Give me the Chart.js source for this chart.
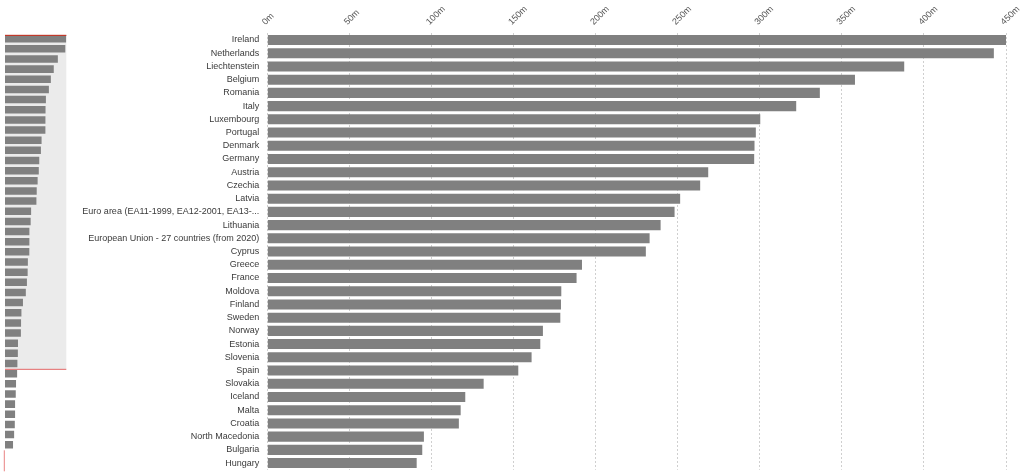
<!DOCTYPE html>
<html>
<head>
<meta charset="utf-8">
<script src="https://cdn.jsdelivr.net/npm/chart.js@4.4.1/dist/chart.umd.min.js"></script>
<style>
  html, body { margin: 0; padding: 0; background: #fff; overflow: hidden; }
  #wrap { position: relative; width: 1024px; height: 476px; }
  #main { position: absolute; left: 0; top: 0; }
  #overview { position: absolute; left: 0; top: 0; }
</style>
</head>
<body>
<div id="wrap">
  <canvas id="main" width="1024" height="476"></canvas>
  <canvas id="overview" width="70" height="476"></canvas>
</div>
<script>
// Ranked countries shown in the detail panel
const countries = [
  'Ireland', 'Netherlands', 'Liechtenstein', 'Belgium', 'Romania', 'Italy',
  'Luxembourg', 'Portugal', 'Denmark', 'Germany', 'Austria', 'Czechia', 'Latvia',
  'Euro area (EA11-1999, EA12-2001, EA13-...', 'Lithuania',
  'European Union - 27 countries (from 2020)', 'Cyprus', 'Greece', 'France',
  'Moldova', 'Finland', 'Sweden', 'Norway', 'Estonia', 'Slovenia', 'Spain',
  'Slovakia', 'Iceland', 'Malta', 'Croatia', 'North Macedonia', 'Bulgaria', 'Hungary'
];

// Values (millions) for the countries above
const values = [
  450, 442.6, 388, 358, 336.6, 322.2, 300.3, 297.6, 296.8, 296.6, 268.6, 263.7,
  251.5, 248.1, 239.6, 232.9, 230.6, 191.7, 188.4, 179.1, 178.9, 178.5, 167.9,
  166.3, 161.0, 152.9, 131.8, 120.6, 117.8, 116.7, 95.4, 94.4, 91.0
];

// Remaining entries of the ranking, only visible in the overview strip
const remainingValues = [89, 81, 79, 74, 74, 72, 67, 59];

// Axis ticks
const tickStep = 50;
const tickUnit = 'm';

const FONT = "'Liberation Sans', Arial, sans-serif";
const BAR = '#808080';
const maxValue = Math.max(...values);

// ---------- detail chart ----------
new Chart(document.getElementById('main'), {
  type: 'bar',
  data: {
    labels: countries,
    datasets: [{
      data: values,
      backgroundColor: BAR,
      borderWidth: 0,
      barPercentage: 0.76,
      categoryPercentage: 1
    }]
  },
  options: {
    indexAxis: 'y',
    responsive: false,
    animation: false,
    events: [],
    layout: { padding: { left: 0, right: 18, top: 0, bottom: 6.3 } },
    plugins: { legend: { display: false }, tooltip: { enabled: false } },
    scales: {
      x: {
        position: 'top',
        min: 0,
        max: maxValue,
        ticks: {
          stepSize: tickStep,
          minRotation: 45,
          maxRotation: 45,
          padding: 6,
          labelOffset: 4,
          color: '#555',
          font: { family: FONT, size: 9 },
          callback: v => v + tickUnit
        },
        grid: {
          color: '#cfcfcf',
          lineWidth: 1,
          drawTicks: false
        },
        border: { display: false, dash: [2, 2] },
        afterFit: s => { s.height = 33.4; s.paddingLeft = 0; s.paddingRight = 0; }
      },
      y: {
        ticks: {
          padding: 8,
          color: '#3a3a3a',
          font: { family: FONT, size: 9 },
          autoSkip: false
        },
        grid: { display: false, drawTicks: false },
        border: { display: false },
        afterFit: s => { s.width = 267.3; s.paddingTop = 0; s.paddingBottom = 0; }
      }
    }
  }
});

// ---------- overview strip ----------
const overviewValues = values.concat(remainingValues);
const windowRows = countries.length;

const windowPlugin = {
  id: 'windowPlugin',
  beforeDatasetsDraw(chart) {
    const { ctx, chartArea, scales } = chart;
    const y = scales.y;
    const row = (y.getPixelForValue(1) - y.getPixelForValue(0));
    const top = y.getPixelForValue(0) - row / 2 + 1.4;
    const bottom = y.getPixelForValue(windowRows - 1) + row / 2 + 0.8;
    ctx.save();
    ctx.fillStyle = '#ebebeb';
    ctx.fillRect(chartArea.left, top, chartArea.right - chartArea.left, bottom - top);
    ctx.restore();
    chart.$win = { top, bottom };
  },
  afterDatasetsDraw(chart) {
    const { ctx, chartArea } = chart;
    const { top, bottom } = chart.$win;
    ctx.save();
    ctx.fillStyle = '#c0392b';
    ctx.fillRect(chartArea.left, top - 0.2, chartArea.right - chartArea.left, 1.2);
    ctx.fillStyle = 'rgba(226,90,90,0.75)';
    ctx.fillRect(chartArea.left, bottom - 0.6, chartArea.right - chartArea.left, 1.2);
    ctx.fillRect(chartArea.left - 1.2, chartArea.bottom + 0.5, 1, 21);
    ctx.restore();
  }
};

new Chart(document.getElementById('overview'), {
  type: 'bar',
  data: {
    labels: overviewValues.map((_, i) => i),
    datasets: [{
      data: overviewValues,
      backgroundColor: BAR,
      borderWidth: 0,
      barPercentage: 0.74,
      categoryPercentage: 1
    }]
  },
  options: {
    indexAxis: 'y',
    responsive: false,
    animation: false,
    events: [],
    layout: { padding: { left: 5, right: 3.7, top: 33.6, bottom: 26.2 } },
    plugins: { legend: { display: false }, tooltip: { enabled: false } },
    scales: {
      x: { display: false, min: 0, max: maxValue },
      y: { display: false }
    }
  },
  plugins: [windowPlugin]
});
</script>
</body>
</html>
